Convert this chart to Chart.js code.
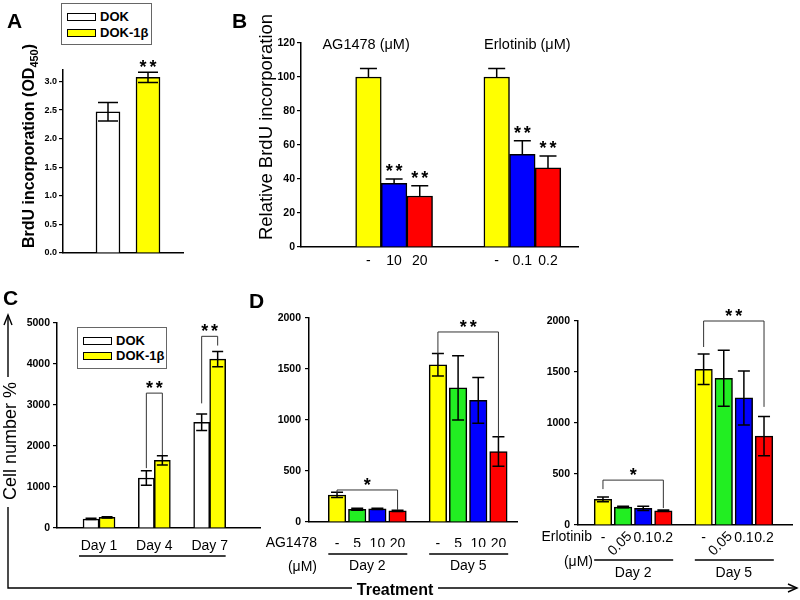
<!DOCTYPE html>
<html>
<head>
<meta charset="utf-8">
<script src="https://cdn.jsdelivr.net/npm/chart.js@4.4.1/dist/chart.umd.min.js"></script>
<style>
html,body{margin:0;padding:0;background:#fff;}
body{width:800px;height:600px;position:relative;overflow:hidden;font-family:"Liberation Sans",Arial,Helvetica,sans-serif;}
canvas{position:absolute;}
.legend{position:absolute;border:1px solid #666;background:#fff;box-sizing:border-box;}
.legend .item{position:absolute;left:0;height:16px;font:bold 13px "Liberation Sans",Arial,sans-serif;color:#000;white-space:nowrap;}
.legend .sw{position:absolute;left:5px;top:4px;width:27px;height:6px;border:1.5px solid #000;}
.legend .tx{position:absolute;left:38px;top:0;line-height:16px;}
svg{position:absolute;left:0;top:0;pointer-events:none;}
</style>
</head>
<body>
<canvas id="cA"></canvas>
<canvas id="cB"></canvas>
<canvas id="cC"></canvas>
<canvas id="cD1"></canvas>
<canvas id="cD2"></canvas>
<div id="legA" class="legend"></div>
<div id="legC" class="legend"></div>
<svg width="800" height="600" font-family="Liberation Sans, Arial, sans-serif">
  <g stroke="#000" stroke-width="1.4" fill="none">
    <line x1="8" y1="315" x2="8" y2="377"/>
    <polyline points="4,325 8,315 12,325"/>
    <polyline points="8,507 8,588 352,588"/>
    <line x1="438" y1="588" x2="797" y2="588"/>
    <polyline points="788,584 797,588 788,592"/>
  </g>
  <text transform="translate(10,441) rotate(-90)" text-anchor="middle" dominant-baseline="central" font-size="18">Cell number %</text>
  <text x="395" y="589" text-anchor="middle" dominant-baseline="central" font-weight="bold" font-size="16">Treatment</text>
  <text x="7" y="28" font-weight="bold" font-size="21">A</text>
  <text x="232" y="28" font-weight="bold" font-size="21">B</text>
  <text x="3" y="305" font-weight="bold" font-size="21">C</text>
  <text x="249" y="308" font-weight="bold" font-size="21">D</text>
</svg>
<script>
// ---------------- DATA ----------------
// Panel A: BrdU incorporation (OD450)
const A_GROUPS = ['DOK', 'DOK-1β'];
const A_VALUES = [2.47, 3.07];
const A_ERRORS = [0.16, 0.09];

// Panel B: Relative BrdU incorporation
const B_DRUGS = ['AG1478 (μM)', 'Erlotinib (μM)'];
const B_DOSES = ['-', '10', '20', '-', '0.1', '0.2'];
const B_VALUES = [100, 37.5, 30, 100, 54.5, 46.5];
const B_ERRORS = [5, 2.5, 6, 5, 8, 7];
const B_STARS = [0, 2, 2, 0, 2, 2];

// Panel C: Cell number %
const C_SERIES = ['DOK', 'DOK-1β'];
const C_DAYS = ['Day 1', 'Day 4', 'Day 7'];
const C_DOK = [220, 1220, 2580];
const C_DOK_ERR = [15, 175, 200];
const C_DOK1B = [260, 1650, 4120];
const C_DOK1B_ERR = [15, 115, 185];
// brackets: [day index, bracket level, left end, right end, stars]
const C_BRACKETS = [[1, 3290, 1460, 1780, 2], [2, 4675, 3040, 4450, 2]];

// Panel D (left): AG1478
const D_DAYS = ['Day 2', 'Day 5'];
const D1_DRUG = ['AG1478', '(μM)'];
const D1_DOSES = ['-', '5', '10', '20'];
const D1_VALUES = [265, 125, 128, 110, 1542, 1316, 1192, 691];
const D1_ERRORS = [26, 10, 6, 6, 110, 315, 225, 145];
// brackets: [first bar, last bar, level, left end, right end, stars]
const D1_BRACKETS = [[0, 3, 314, 285, 118, 1], [4, 7, 1863, 1650, 838, 2]];

// Panel D (right): Erlotinib
const D2_DRUG = ['Erlotinib', '(μM)'];
const D2_DOSES = ['-', '0.05', '0.1', '0.2'];
const D2_VALUES = [251, 176, 163, 140, 1527, 1439, 1246, 871];
const D2_ERRORS = [24, 7, 21, 8, 150, 275, 265, 192];
const D2_BRACKETS = [[0, 3, 440, 352, 166, 1], [4, 7, 2000, 1745, 1158, 2]];

// ---------------- STYLE ----------------
const FONT = '"Liberation Sans", Arial, Helvetica, sans-serif';
const WHITE = '#ffffff', YELLOW = '#ffff00', GREEN = '#22ee22', BLUE = '#0000ff', RED = '#ff0000';
Chart.defaults.font.family = FONT;
Chart.defaults.color = '#000';

// slot positions on the category line: groups of n bars separated by gap empty slots
function slots(groups, gap) {
  const out = []; let p = 0;
  groups.forEach(n => { for (let i = 0; i < n; i++) out.push(p + i); p += n + gap; });
  return out;
}

function stars(ctx, x, cy, n, size) {
  ctx.save();
  ctx.font = 'bold ' + size + 'px ' + FONT;
  ctx.textAlign = 'center'; ctx.textBaseline = 'alphabetic'; ctx.fillStyle = '#000';
  const gap = size * 0.55;
  for (let k = 0; k < n; k++) ctx.fillText('*', x + (k - (n - 1) / 2) * gap, cy + size * 0.6);
  ctx.restore();
}
function errBars(chart, ds, errs, cap, upperOnly) {
  const ctx = chart.ctx, ys = chart.scales.y;
  const meta = chart.getDatasetMeta(ds), pts = chart.data.datasets[ds].data;
  ctx.save(); ctx.strokeStyle = '#000'; ctx.lineWidth = 1.5;
  meta.data.forEach((el, i) => {
    const v = pts[i].y, e = errs[i];
    const t = ys.getPixelForValue(v + e), b = ys.getPixelForValue(upperOnly ? v : v - e);
    ctx.beginPath();
    ctx.moveTo(el.x, t); ctx.lineTo(el.x, b);
    ctx.moveTo(el.x - cap / 2, t); ctx.lineTo(el.x + cap / 2, t);
    if (!upperOnly) { ctx.moveTo(el.x - cap / 2, b); ctx.lineTo(el.x + cap / 2, b); }
    ctx.stroke();
  });
  ctx.restore();
}
function bracket(chart, x1, x2, level, v1, v2, n) {
  const ctx = chart.ctx, ys = chart.scales.y;
  const y = ys.getPixelForValue(level);
  ctx.save(); ctx.strokeStyle = '#333'; ctx.lineWidth = 1;
  ctx.beginPath();
  ctx.moveTo(x1, ys.getPixelForValue(v1)); ctx.lineTo(x1, y); ctx.lineTo(x2, y); ctx.lineTo(x2, ys.getPixelForValue(v2));
  ctx.stroke(); ctx.restore();
  stars(chart.ctx, (x1 + x2) / 2, y - 10, n, 18);
}
function text(ctx, s, x, y, font, align) {
  ctx.save(); ctx.font = font; ctx.fillStyle = '#000';
  ctx.textAlign = align || 'center'; ctx.textBaseline = 'middle';
  ctx.fillText(s, x, y); ctx.restore();
}
function hline(ctx, x1, x2, y) {
  ctx.save(); ctx.strokeStyle = '#000'; ctx.lineWidth = 1.3;
  ctx.beginPath(); ctx.moveTo(x1, y); ctx.lineTo(x2, y); ctx.stroke(); ctx.restore();
}

function buildChart(o) {
  const cv = document.getElementById(o.id);
  cv.width = o.w; cv.height = o.h;
  cv.style.left = o.left + 'px'; cv.style.top = o.top + 'px';
  const yw = o.area[0] - o.left;
  const padTop = o.area[1] - o.top;
  const padRight = o.left + o.w - o.area[2];
  const xh = o.xh;
  const padBottom = o.top + o.h - o.area[3] - xh;
  return new Chart(cv, {
    type: 'bar',
    data: { datasets: o.datasets },
    options: {
      responsive: false, animation: false, events: [], devicePixelRatio: 1,
      layout: { padding: { left: 0, top: padTop, right: padRight, bottom: padBottom } },
      plugins: { legend: { display: false }, tooltip: { enabled: false } },
      scales: {
        x: {
          type: 'linear', min: o.xMin, max: o.xMax, offset: false,
          grid: { display: false, drawTicks: false, offset: false },
          border: { display: true, color: '#000', width: 1.5 },
          afterBuildTicks: s => { s.ticks = o.ticksAt.map(v => ({ value: v })); },
          afterFit: s => { s.height = xh; },
          ticks: {
            display: !!o.xLabels, autoSkip: false, maxRotation: 0, minRotation: 0,
            padding: o.xPad || 0, font: { size: 14 }, color: '#000',
            callback: (v, i) => (o.xLabels ? o.xLabels[i] : '')
          }
        },
        y: {
          type: 'linear', min: 0, max: o.yMax,
          grid: { display: true, drawOnChartArea: false, drawTicks: true, tickLength: 4, color: '#000', lineWidth: 1.2 },
          border: { display: true, color: '#000', width: 1.5 },
          afterFit: s => { s.width = yw; },
          ticks: {
            stepSize: o.yStep, includeBounds: false, padding: o.yPad, color: '#000',
            font: { size: o.yFont, weight: 'bold' }, callback: o.yFmt || (v => String(v))
          }
        }
      }
    },
    plugins: [{ id: 'annot' + o.id, afterDatasetsDraw: o.draw }]
  });
}

// ---------------- PANEL A ----------------
const A_POS = slots([A_GROUPS.length], 0);
buildChart({
  id: 'cA', left: 0, top: 0, w: 200, h: 280, area: [63, 70, 183, 253], xh: 5,
  xMin: -1.125, xMax: 1.875, ticksAt: A_POS, yMax: 3.2, yStep: 0.5, yFont: 9, yPad: 2,
  yFmt: v => v.toFixed(1),
  datasets: [{
    label: 'BrdU', data: A_POS.map((p, i) => ({ x: p, y: A_VALUES[i] })),
    backgroundColor: [WHITE, YELLOW], borderColor: '#000', borderWidth: 1.5, barThickness: 24
  }],
  draw(chart) {
    const ctx = chart.ctx, ys = chart.scales.y;
    errBars(chart, 0, A_ERRORS, 20, false);
    const el = chart.getDatasetMeta(0).data[1];
    stars(ctx, el.x, ys.getPixelForValue(A_VALUES[1] + A_ERRORS[1]) - 10, 2, 18);
    // y title with subscript
    ctx.save();
    ctx.translate(chart.chartArea.left - 33, 146); ctx.rotate(-Math.PI / 2);
    ctx.fillStyle = '#000'; ctx.textBaseline = 'middle'; ctx.textAlign = 'left';
    const f1 = 'bold 16px ' + FONT, f2 = 'bold 11px ' + FONT;
    const p1 = 'BrdU incorporation (OD', p2 = '450', p3 = ')';
    ctx.font = f1; const w1 = ctx.measureText(p1).width, w3 = ctx.measureText(p3).width;
    ctx.font = f2; const w2 = ctx.measureText(p2).width;
    let x0 = -(w1 + w2 + w3) / 2;
    ctx.font = f1; ctx.fillText(p1, x0, 0);
    ctx.font = f2; ctx.fillText(p2, x0 + w1, 5);
    ctx.font = f1; ctx.fillText(p3, x0 + w1 + w2, 0);
    ctx.restore();
  }
});

// ---------------- PANEL B ----------------
const B_POS = slots([3, 3], 2);
const B_COLORS = [YELLOW, BLUE, RED, YELLOW, BLUE, RED];
buildChart({
  id: 'cB', left: 200, top: 0, w: 390, h: 280, area: [301, 43, 578, 247], xh: 25,
  xMin: -2.63, xMax: 8.17, ticksAt: B_POS, xLabels: B_DOSES, xPad: 6,
  yMax: 120, yStep: 20, yFont: 10.5, yPad: 2,
  datasets: [{
    label: 'Relative BrdU', data: B_POS.map((p, i) => ({ x: p, y: B_VALUES[i] })),
    backgroundColor: B_COLORS, borderColor: '#000', borderWidth: 1.5, barThickness: 25.6
  }],
  draw(chart) {
    const ctx = chart.ctx, ys = chart.scales.y;
    errBars(chart, 0, B_ERRORS, 17, true);
    const els = chart.getDatasetMeta(0).data;
    els.forEach((el, i) => {
      if (B_STARS[i]) stars(ctx, el.x, ys.getPixelForValue(B_VALUES[i] + B_ERRORS[i]) - 13, B_STARS[i], 18);
    });
    const dx = [-28, 5];
    B_DRUGS.forEach((s, g) => {
      const cx = (els[g * 3].x + els[g * 3 + 2].x) / 2 + dx[g];
      text(ctx, s, cx, 45, '14.5px ' + FONT);
    });
    ctx.save();
    ctx.translate(chart.chartArea.left - 34, 127); ctx.rotate(-Math.PI / 2);
    ctx.font = '18.5px ' + FONT; ctx.fillStyle = '#000'; ctx.textAlign = 'center'; ctx.textBaseline = 'middle';
    ctx.fillText('Relative BrdU incorporation', 0, 0);
    ctx.restore();
  }
});

// ---------------- PANEL C ----------------
const C_POS = slots([1, 1, 1], 0);
buildChart({
  id: 'cC', left: 0, top: 280, w: 270, h: 320, area: [57, 323, 260, 528], xh: 25,
  xMin: -0.76, xMax: 2.91, ticksAt: C_POS, xLabels: C_DAYS, xPad: 10,
  yMax: 5000, yStep: 1000, yFont: 10.5, yPad: 3,
  datasets: [
    { label: C_SERIES[0], data: C_POS.map((p, i) => ({ x: p, y: C_DOK[i] })),
      backgroundColor: WHITE, borderColor: '#000', borderWidth: 1.5, barThickness: 16 },
    { label: C_SERIES[1], data: C_POS.map((p, i) => ({ x: p, y: C_DOK1B[i] })),
      backgroundColor: YELLOW, borderColor: '#000', borderWidth: 1.5, barThickness: 16 }
  ],
  draw(chart) {
    const ctx = chart.ctx;
    errBars(chart, 0, C_DOK_ERR, 11, false);
    errBars(chart, 1, C_DOK1B_ERR, 11, false);
    const m0 = chart.getDatasetMeta(0).data, m1 = chart.getDatasetMeta(1).data;
    C_BRACKETS.forEach(([d, lv, a, b, n]) => bracket(chart, m0[d].x, m1[d].x, lv, a, b, n));
    const y = chart.scales.x.top + 28;
    hline(ctx, m0[0].x - m0[0].width / 2 - 4, m1[m1.length - 1].x + m1[m1.length - 1].width / 2, y);
  }
});

// ---------------- PANEL D (left) ----------------
const D_POS = slots([4, 4], 1);
const D_COLORS = [YELLOW, GREEN, BLUE, RED, YELLOW, GREEN, BLUE, RED];
function dPanelDraw(values, errors, brackets, drug, o) {
  return function (chart) {
    const ctx = chart.ctx, xs = chart.scales.x;
    errBars(chart, 0, errors, 12, false);
    const els = chart.getDatasetMeta(0).data;
    brackets.forEach(([i, j, lv, a, b, n]) => bracket(chart, els[i].x, els[j].x, lv, a, b, n));
    const f = '14px ' + FONT;
    const left = chart.chartArea.left;
    text(ctx, drug[0], left + o.drugDx, xs.top + o.drugY, f, 'right');
    text(ctx, drug[1], left + o.unitDx, xs.top + o.unitY, f, 'right');
    D_DAYS.forEach((day, g) => {
      const cx = (els[g * 4].x + els[g * 4 + 3].x) / 2;
      hline(ctx, cx - 39, cx + 40, xs.top + o.lineY);
      text(ctx, day, cx, xs.top + o.dayY, f);
    });
    if (o.rotated) {
      els.forEach((el, i) => {
        if (o.rotated[i]) {
          ctx.save(); ctx.translate(el.x - 3, xs.top + 19); ctx.rotate(-Math.PI / 4);
          ctx.font = f; ctx.fillStyle = '#000'; ctx.textAlign = 'center'; ctx.textBaseline = 'middle';
          ctx.fillText(o.rotated[i], 0, 0); ctx.restore();
        }
      });
    }
  };
}
buildChart({
  id: 'cD1', left: 260, top: 280, w: 270, h: 320, area: [309, 318, 517, 522], xh: 25,
  xMin: -1.39, xMax: 8.92, ticksAt: D_POS, xLabels: D1_DOSES.concat(D1_DOSES), xPad: 14,
  yMax: 2000, yStep: 500, yFont: 10.5, yPad: 4,
  datasets: [{
    label: 'AG1478', data: D_POS.map((p, i) => ({ x: p, y: D1_VALUES[i] })),
    backgroundColor: D_COLORS, borderColor: '#000', borderWidth: 1.5, barThickness: 17.5
  }],
  draw: dPanelDraw(D1_VALUES, D1_ERRORS, D1_BRACKETS, D1_DRUG,
    { drugDx: 8, drugY: 21.5, unitDx: 8, unitY: 45, lineY: 32, dayY: 44 })
});

// ---------------- PANEL D (right) ----------------
const D2_ALL = D2_DOSES.concat(D2_DOSES);
buildChart({
  id: 'cD2', left: 530, top: 280, w: 270, h: 320, area: [578, 321, 792, 525], xh: 25,
  xMin: -1.24, xMax: 9.39, ticksAt: D_POS, xLabels: D2_ALL.map(s => (s === '0.05' ? '' : s)), xPad: 5,
  yMax: 2000, yStep: 500, yFont: 10.5, yPad: 4,
  datasets: [{
    label: 'Erlotinib', data: D_POS.map((p, i) => ({ x: p, y: D2_VALUES[i] })),
    backgroundColor: D_COLORS, borderColor: '#000', borderWidth: 1.5, barThickness: 17.5
  }],
  draw: dPanelDraw(D2_VALUES, D2_ERRORS, D2_BRACKETS, D2_DRUG,
    { drugDx: 14, drugY: 12, unitDx: 15, unitY: 37, lineY: 35, dayY: 48,
      rotated: D2_ALL.map(s => (s === '0.05' ? s : '')) })
});

// ---------------- LEGENDS ----------------
function legend(id, box, names, colors) {
  const el = document.getElementById(id);
  Object.assign(el.style, { left: box[0] + 'px', top: box[1] + 'px', width: box[2] + 'px', height: box[3] + 'px' });
  names.forEach((n, i) => {
    const it = document.createElement('div');
    it.className = 'item'; it.style.top = (box[4] + i * box[5]) + 'px'; it.style.width = box[2] + 'px';
    it.innerHTML = '<div class="sw" style="background:' + colors[i] + '"></div><div class="tx"></div>';
    it.querySelector('.tx').textContent = n;
    el.appendChild(it);
  });
}
legend('legA', [61, 3, 91, 42, 5, 16], A_GROUPS, [WHITE, YELLOW]);
legend('legC', [77, 327, 90, 42, 5, 15], C_SERIES, [WHITE, YELLOW]);
</script>
</body>
</html>
